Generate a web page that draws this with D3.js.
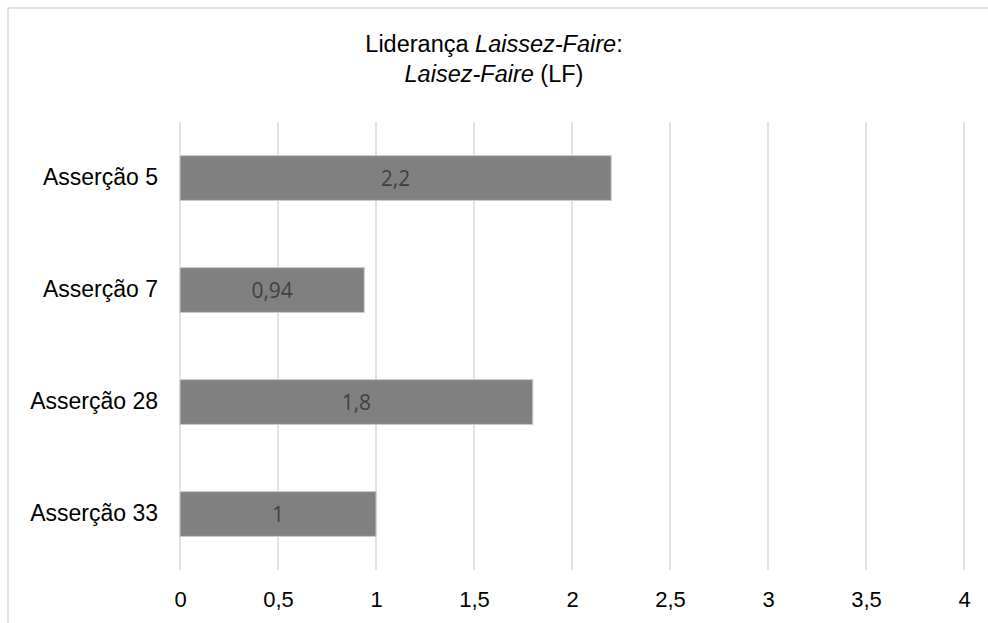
<!DOCTYPE html>
<html>
<head>
<meta charset="utf-8">
<script src="https://cdn.jsdelivr.net/npm/d3@7"></script>
<style>
  html, body { margin: 0; padding: 0; background: #fff; }
  svg { display: block; }
</style>
</head>
<body>
<svg id="chart" width="988" height="623"></svg>
<script>
// Assertion scores for the Laissez-Faire leadership factor
const categories = ["Asserção 5", "Asserção 7", "Asserção 28", "Asserção 33"];
const values = [2.2, 0.94, 1.8, 1];
const valueLabels = ["2,2", "0,94", "1,8", "1"];
const tickValues = [0, 0.5, 1, 1.5, 2, 2.5, 3, 3.5, 4];
const tickLabels = ["0", "0,5", "1", "1,5", "2", "2,5", "3", "3,5", "4"];

const svg = d3.select("#chart");
const W = 988, H = 623;
const plot = { left: 180, right: 964, top: 122, bottom: 570 };
const sans = "Liberation Sans, Arial, sans-serif";

// Chart area frame
svg.append("rect")
  .attr("x", 8).attr("y", 8)
  .attr("width", W + 20).attr("height", H + 20)
  .attr("fill", "#fff")
  .attr("stroke", "#d9d9d9").attr("stroke-width", 1.5);

// Title (two lines, partly italic)
const title = svg.append("text")
  .attr("x", W / 2).attr("text-anchor", "middle")
  .attr("font-family", sans)
  .attr("font-size", 23.5).attr("fill", "#000");
const l1 = title.append("tspan").attr("x", W / 2).attr("y", 52);
l1.append("tspan").text("Liderança ");
l1.append("tspan").attr("font-style", "italic").text("Laissez-Faire");
l1.append("tspan").text(":");
const l2 = title.append("tspan").attr("x", W / 2).attr("y", 82);
l2.append("tspan").attr("font-style", "italic").text("Laisez-Faire");
l2.append("tspan").text(" (LF)");

const x = d3.scaleLinear().domain([0, 4]).range([plot.left, plot.right]);
const y = d3.scaleBand().domain(categories)
  .range([plot.top, plot.bottom])
  .paddingInner(0.6).paddingOuter(0.3);

// Vertical gridlines
svg.append("g").selectAll("line")
  .data(tickValues).join("line")
  .attr("x1", d => x(d)).attr("x2", d => x(d))
  .attr("y1", plot.top).attr("y2", plot.bottom)
  .attr("stroke", "#d9d9d9").attr("stroke-width", 1.5);

// X axis labels
const xAxis = d3.axisBottom(x)
  .tickValues(tickValues)
  .tickFormat((d, i) => tickLabels[i])
  .tickSize(0).tickPadding(21);
const gx = svg.append("g")
  .attr("transform", `translate(0,${plot.bottom})`)
  .call(xAxis);
gx.select(".domain").remove();
gx.selectAll("text")
  .attr("font-family", sans)
  .attr("font-size", 22).attr("fill", "#000");

// Y axis labels
const yAxis = d3.axisLeft(y).tickSize(0).tickPadding(22);
const gy = svg.append("g")
  .attr("transform", `translate(${plot.left},0)`)
  .call(yAxis);
gy.select(".domain").remove();
gy.selectAll("text")
  .attr("font-family", sans)
  .attr("font-size", 23).attr("dy", "0.3em").attr("fill", "#000");

// Bars
svg.append("g").selectAll("rect")
  .data(values).join("rect")
  .attr("x", x(0))
  .attr("y", (d, i) => y(categories[i]))
  .attr("width", d => x(d) - x(0))
  .attr("height", y.bandwidth())
  .attr("fill", "#808080")
  .attr("stroke", "#c8c8c8").attr("stroke-width", 1);

// Value labels centred in bars
svg.append("g").selectAll("text")
  .data(values).join("text")
  .attr("x", d => (x(0) + x(d)) / 2)
  .attr("y", (d, i) => y(categories[i]) + y.bandwidth() / 2)
  .attr("dy", "0.36em")
  .attr("text-anchor", "middle")
  .attr("font-family", "Open Sans, Noto Sans, sans-serif")
  .attr("font-size", 21).attr("fill", "#404040")
  .text((d, i) => valueLabels[i]);
</script>
</body>
</html>
